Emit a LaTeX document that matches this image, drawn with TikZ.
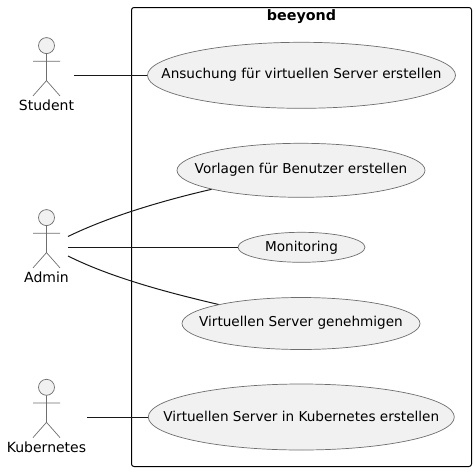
\documentclass[tikz,border=0pt]{standalone}
\usepackage{fontspec}
\setmainfont{DejaVu Sans}
\usetikzlibrary{shapes.geometric}
\definecolor{ucfill}{HTML}{F1F1F1}
\definecolor{ucline}{HTML}{181818}
\definecolor{thinline}{HTML}{6E6E6E}
\newcommand{\uctext}[2]{\makebox[0pt]{\smash{\raisebox{-#1pt}{#2}}}}
\tikzset{
  x=1pt,y=-1pt,
  usecase/.style={ellipse,draw=thinline,fill=ucfill,line width=0.7pt,inner sep=0pt,font=\fontsize{13.6}{16}\selectfont},
  actorpart/.style={draw=thinline,line width=0.7pt},
  actorlabel/.style={inner sep=0pt,font=\fontsize{14}{16}\selectfont},
  link/.style={draw=ucline,line width=1pt},
  frameline/.style={draw=black,line width=1pt,rounded corners=2.5pt},
  frametitle/.style={inner sep=0pt,font=\bfseries\fontsize{14.3}{16}\selectfont}
}
\newcommand{\drawactor}[2]{% x, top-of-head y
  \draw[actorpart,fill=ucfill] (#1,#2+8.3) circle[radius=8pt];
  \draw[actorpart] (#1,#2+16.3) -- (#1,#2+43.3)
    (#1-13.5,#2+24) -- (#1+13.5,#2+24)
    (#1-13.5,#2+58.6) -- (#1,#2+43.3) -- (#1+13.5,#2+58.6);
}
\begin{document}
\begin{tikzpicture}
\useasboundingbox (0,0) rectangle (476,471);
\draw[frameline] (131.5,7.5) rectangle (471.5,466.5);
\node[frametitle] (title) at (301.5,17) {beeyond};

\drawactor{46.5}{37.3}
\node[actorlabel] (student) at (46.5,105) {Student};
\drawactor{46.5}{209.3}
\node[actorlabel] (admin) at (46.5,277) {Admin};
\drawactor{46.5}{379}
\node[actorlabel] (kube) at (46.5,447) {Kubernetes};

\node[usecase,minimum width=308pt,minimum height=66pt] (e1) at (301.5,75.3) {\uctext{3.3}{Ansuchung für virtuellen Server erstellen}};
\node[usecase,minimum width=248pt,minimum height=54pt] (e2) at (301,170.3) {\uctext{3.2}{Vorlagen für Benutzer erstellen}};
\node[usecase,minimum width=127pt,minimum height=30pt] (e3) at (301.5,247.3) {\uctext{4.2}{Monitoring}};
\node[usecase,minimum width=238pt,minimum height=52pt] (e4) at (301,323.5) {\uctext{2.8}{Virtuellen Server genehmigen}};
\node[usecase,minimum width=306pt,minimum height=66pt] (e5) at (301.3,417) {\uctext{4}{Virtuellen Server in Kubernetes erstellen}};

\coordinate (s1) at (74,75.3);
\coordinate (a1) at (68,236.5);
\coordinate (a2) at (68,247.3);
\coordinate (a3) at (68,256);
\coordinate (k1) at (87,417);

\draw[link] (s1) -- (e1.west);
\draw[link] (a1) .. controls (110,216) and (165,200) .. (e2.192);
\draw[link] (a2) -- (e3.west);
\draw[link] (a3) .. controls (110,277) and (165,292) .. (e4.167.6);
\draw[link] (k1) -- (e5.west);
\end{tikzpicture}
\end{document}
